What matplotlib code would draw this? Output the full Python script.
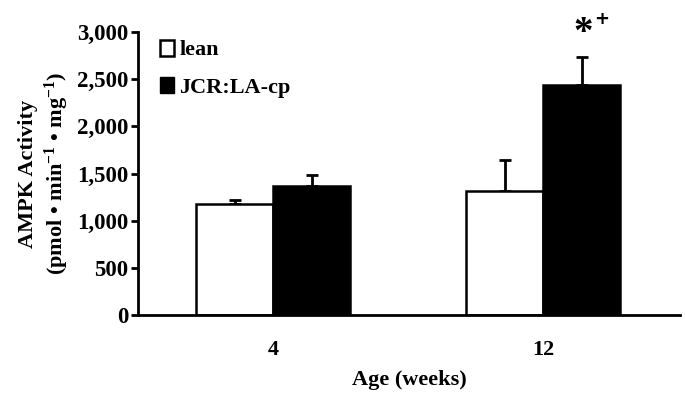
import numpy as np
import matplotlib.pyplot as plt
from matplotlib.patches import Patch

# Data
ages = ['4', '12']
lean = [1175, 1320]
lean_err = [40, 320]
jcr = [1370, 2440]
jcr_err = [115, 300]

plt.rcParams["font.family"] = "Liberation Serif"
plt.rcParams["font.weight"] = "bold"
plt.rcParams["mathtext.fontset"] = "custom"
plt.rcParams["mathtext.rm"] = "Liberation Serif:bold"
plt.rcParams["mathtext.it"] = "Liberation Serif:bold"
plt.rcParams["mathtext.bf"] = "Liberation Serif:bold"
plt.rcParams["mathtext.default"] = "rm"

fig = plt.figure(figsize=(6.85, 3.94), dpi=100)
ax = fig.add_axes([0.2015, 0.2005, 0.7912, 0.718])

x = np.arange(len(ages))
w = 0.285
ax.bar(x - w/2, lean, w, color='white', edgecolor='black', linewidth=1.8, zorder=2)
ax.bar(x + w/2, jcr, w, color='black', edgecolor='black', linewidth=1.8, zorder=2)
ax.errorbar(x - w/2, lean, yerr=[np.zeros(2), lean_err], fmt='none', ecolor='black',
            elinewidth=2, capsize=4, capthick=2, zorder=1)
ax.errorbar(x + w/2, jcr, yerr=[np.zeros(2), jcr_err], fmt='none', ecolor='black',
            elinewidth=2, capsize=4, capthick=2, zorder=1)

# significance marks
ax.text(1.148, 2980, '*', ha='center', va='center', fontsize=28,
        fontweight='bold', clip_on=False)
ax.text(1.218, 3140, '+', ha='center', va='center', fontsize=13,
        fontweight='bold', family='DejaVu Sans', clip_on=False)

ax.set_xlim(-0.5, 1.507)
ax.set_ylim(0, 3000)
ax.set_xticks(x)
ax.set_xticklabels(ages)
ax.set_yticks(np.arange(0, 3001, 500))
ax.set_yticklabels([f'{v:,}' for v in range(0, 3001, 500)])
ax.tick_params(axis='y', direction='out', length=5, width=2, labelsize=16.5, pad=2)
ax.tick_params(axis='x', length=0, labelsize=16, pad=18)

for s in ['top', 'right']:
    ax.spines[s].set_visible(False)
ax.spines['left'].set_linewidth(2)
ax.spines['bottom'].set_linewidth(2)

ax.set_xlabel('Age (weeks)', fontsize=16, fontweight='bold', labelpad=7)
ax.set_ylabel('AMPK Activity\n(pmol • min$^{-1}$ • mg$^{-1}$)',
              fontsize=16, fontweight='bold', linespacing=1.25, labelpad=4)

handles = [Patch(facecolor='white', edgecolor='black', linewidth=1.8, label='lean'),
           Patch(facecolor='black', edgecolor='black', label='JCR:LA-cp')]
ax.legend(handles=handles, loc='upper left', bbox_to_anchor=(0.025, 1.005), frameon=False,
          fontsize=16, handlelength=0.6, handleheight=0.75, handletextpad=0.25,
          labelspacing=0.75, borderaxespad=0)

fig.savefig('out.png', dpi=100)
